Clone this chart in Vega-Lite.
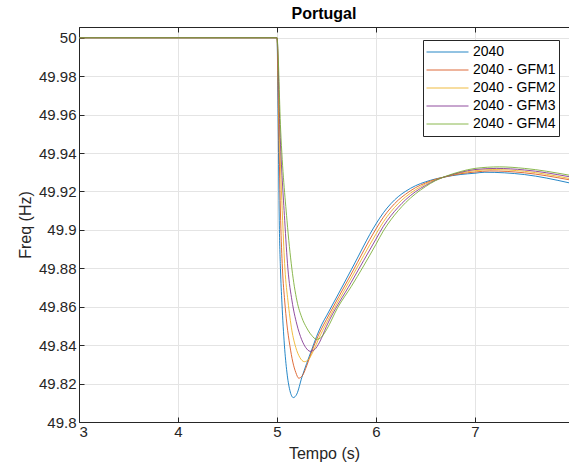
{
  "$schema": "https://vega.github.io/schema/vega-lite/v6.json",
  "width": 490,
  "height": 395,
  "padding": {"left": 17, "top": 5, "right": 0, "bottom": 5},
  "background": "white",
  "title": {"text": "Portugal", "fontSize": 16, "fontWeight": "bold", "font": "Liberation Sans", "color": "#000000", "offset": 5, "anchor": "middle"},
  "config": {
    "view": {"stroke": "#262626", "strokeWidth": 1},
    "axis": {
      "labelFont": "Liberation Sans", "labelFontSize": 15, "labelColor": "#262626",
      "titleFont": "Liberation Sans", "titleFontSize": 16, "titleFontWeight": "normal", "titleColor": "#262626",
      "domainColor": "#262626", "tickColor": "#262626", "gridColor": "#e4e4e4", "gridWidth": 1
    }
  },
  "data": {"values": [
    {"s":"2040","t":3,"f":50},{"s":"2040","t":5,"f":50},{"s":"2040","t":5.013,"f":49.952},{"s":"2040","t":5.023,"f":49.905},{"s":"2040","t":5.035,"f":49.88},{"s":"2040","t":5.05,"f":49.862},{"s":"2040","t":5.075,"f":49.84},{"s":"2040","t":5.1,"f":49.826},{"s":"2040","t":5.13,"f":49.8165},{"s":"2040","t":5.165,"f":49.8127},{"s":"2040","t":5.2,"f":49.8145},{"s":"2040","t":5.25,"f":49.823},{"s":"2040","t":5.3,"f":49.8305},{"s":"2040","t":5.35,"f":49.8375},{"s":"2040","t":5.4,"f":49.8445},{"s":"2040","t":5.455,"f":49.851},{"s":"2040","t":5.5,"f":49.8552},{"s":"2040","t":5.75,"f":49.8792},{"s":"2040","t":6.0,"f":49.9031},{"s":"2040","t":6.075,"f":49.9089},{"s":"2040","t":6.15,"f":49.9136},{"s":"2040","t":6.225,"f":49.9173},{"s":"2040","t":6.3,"f":49.9201},{"s":"2040","t":6.4,"f":49.923},{"s":"2040","t":6.5,"f":49.925},{"s":"2040","t":6.6,"f":49.9265},{"s":"2040","t":6.7,"f":49.9276},{"s":"2040","t":6.85,"f":49.9288},{"s":"2040","t":7.0,"f":49.9295},{"s":"2040","t":7.1,"f":49.93},{"s":"2040","t":7.5,"f":49.9288},{"s":"2040","t":7.95,"f":49.9245},
    {"s":"2040 - GFM1","t":3,"f":50},{"s":"2040 - GFM1","t":5,"f":50},{"s":"2040 - GFM1","t":5.018,"f":49.952},{"s":"2040 - GFM1","t":5.037,"f":49.905},{"s":"2040 - GFM1","t":5.055,"f":49.88},{"s":"2040 - GFM1","t":5.078,"f":49.863},{"s":"2040 - GFM1","t":5.1,"f":49.851},{"s":"2040 - GFM1","t":5.13,"f":49.8398},{"s":"2040 - GFM1","t":5.16,"f":49.8312},{"s":"2040 - GFM1","t":5.19,"f":49.8258},{"s":"2040 - GFM1","t":5.22,"f":49.8228},{"s":"2040 - GFM1","t":5.26,"f":49.8244},{"s":"2040 - GFM1","t":5.3,"f":49.8292},{"s":"2040 - GFM1","t":5.35,"f":49.8365},{"s":"2040 - GFM1","t":5.4,"f":49.843},{"s":"2040 - GFM1","t":5.45,"f":49.8485},{"s":"2040 - GFM1","t":5.5,"f":49.8534},{"s":"2040 - GFM1","t":5.75,"f":49.877},{"s":"2040 - GFM1","t":6.0,"f":49.9005},{"s":"2040 - GFM1","t":6.075,"f":49.9066},{"s":"2040 - GFM1","t":6.15,"f":49.9115},{"s":"2040 - GFM1","t":6.225,"f":49.9155},{"s":"2040 - GFM1","t":6.3,"f":49.9186},{"s":"2040 - GFM1","t":6.4,"f":49.922},{"s":"2040 - GFM1","t":6.5,"f":49.9244},{"s":"2040 - GFM1","t":6.6,"f":49.9263},{"s":"2040 - GFM1","t":6.7,"f":49.9276},{"s":"2040 - GFM1","t":6.85,"f":49.9292},{"s":"2040 - GFM1","t":7.0,"f":49.9301},{"s":"2040 - GFM1","t":7.15,"f":49.9307},{"s":"2040 - GFM1","t":7.5,"f":49.9297},{"s":"2040 - GFM1","t":7.95,"f":49.9261},
    {"s":"2040 - GFM2","t":3,"f":50},{"s":"2040 - GFM2","t":5,"f":50},{"s":"2040 - GFM2","t":5.024,"f":49.952},{"s":"2040 - GFM2","t":5.057,"f":49.905},{"s":"2040 - GFM2","t":5.08,"f":49.88},{"s":"2040 - GFM2","t":5.111,"f":49.863},{"s":"2040 - GFM2","t":5.15,"f":49.8478},{"s":"2040 - GFM2","t":5.19,"f":49.8388},{"s":"2040 - GFM2","t":5.23,"f":49.8337},{"s":"2040 - GFM2","t":5.276,"f":49.8314},{"s":"2040 - GFM2","t":5.32,"f":49.8326},{"s":"2040 - GFM2","t":5.37,"f":49.8372},{"s":"2040 - GFM2","t":5.42,"f":49.8432},{"s":"2040 - GFM2","t":5.46,"f":49.8475},{"s":"2040 - GFM2","t":5.5,"f":49.8516},{"s":"2040 - GFM2","t":5.75,"f":49.8749},{"s":"2040 - GFM2","t":6.0,"f":49.8978},{"s":"2040 - GFM2","t":6.075,"f":49.9042},{"s":"2040 - GFM2","t":6.15,"f":49.9094},{"s":"2040 - GFM2","t":6.225,"f":49.9137},{"s":"2040 - GFM2","t":6.3,"f":49.9172},{"s":"2040 - GFM2","t":6.4,"f":49.9209},{"s":"2040 - GFM2","t":6.5,"f":49.9238},{"s":"2040 - GFM2","t":6.6,"f":49.9261},{"s":"2040 - GFM2","t":6.7,"f":49.9277},{"s":"2040 - GFM2","t":6.85,"f":49.9296},{"s":"2040 - GFM2","t":7.0,"f":49.9308},{"s":"2040 - GFM2","t":7.18,"f":49.9314},{"s":"2040 - GFM2","t":7.5,"f":49.9305},{"s":"2040 - GFM2","t":7.95,"f":49.9268},
    {"s":"2040 - GFM3","t":3,"f":50},{"s":"2040 - GFM3","t":5,"f":50},{"s":"2040 - GFM3","t":5.03,"f":49.952},{"s":"2040 - GFM3","t":5.078,"f":49.905},{"s":"2040 - GFM3","t":5.11,"f":49.88},{"s":"2040 - GFM3","t":5.152,"f":49.863},{"s":"2040 - GFM3","t":5.2,"f":49.851},{"s":"2040 - GFM3","t":5.25,"f":49.8428},{"s":"2040 - GFM3","t":5.29,"f":49.8388},{"s":"2040 - GFM3","t":5.335,"f":49.8368},{"s":"2040 - GFM3","t":5.38,"f":49.8377},{"s":"2040 - GFM3","t":5.43,"f":49.8415},{"s":"2040 - GFM3","t":5.5,"f":49.8498},{"s":"2040 - GFM3","t":5.75,"f":49.8727},{"s":"2040 - GFM3","t":6.0,"f":49.8952},{"s":"2040 - GFM3","t":6.075,"f":49.9019},{"s":"2040 - GFM3","t":6.15,"f":49.9073},{"s":"2040 - GFM3","t":6.225,"f":49.9118},{"s":"2040 - GFM3","t":6.3,"f":49.9157},{"s":"2040 - GFM3","t":6.4,"f":49.9199},{"s":"2040 - GFM3","t":6.5,"f":49.9231},{"s":"2040 - GFM3","t":6.6,"f":49.9258},{"s":"2040 - GFM3","t":6.7,"f":49.9277},{"s":"2040 - GFM3","t":6.85,"f":49.9299},{"s":"2040 - GFM3","t":7.0,"f":49.9314},{"s":"2040 - GFM3","t":7.22,"f":49.932},{"s":"2040 - GFM3","t":7.5,"f":49.9312},{"s":"2040 - GFM3","t":7.95,"f":49.9277},
    {"s":"2040 - GFM4","t":3,"f":50},{"s":"2040 - GFM4","t":5,"f":50},{"s":"2040 - GFM4","t":5.037,"f":49.952},{"s":"2040 - GFM4","t":5.101,"f":49.905},{"s":"2040 - GFM4","t":5.15,"f":49.88},{"s":"2040 - GFM4","t":5.202,"f":49.863},{"s":"2040 - GFM4","t":5.25,"f":49.8545},{"s":"2040 - GFM4","t":5.3,"f":49.849},{"s":"2040 - GFM4","t":5.35,"f":49.8451},{"s":"2040 - GFM4","t":5.4,"f":49.843},{"s":"2040 - GFM4","t":5.45,"f":49.8442},{"s":"2040 - GFM4","t":5.5,"f":49.848},{"s":"2040 - GFM4","t":5.613,"f":49.8595},{"s":"2040 - GFM4","t":5.75,"f":49.8705},{"s":"2040 - GFM4","t":6.0,"f":49.8925},{"s":"2040 - GFM4","t":6.075,"f":49.8995},{"s":"2040 - GFM4","t":6.15,"f":49.9052},{"s":"2040 - GFM4","t":6.225,"f":49.91},{"s":"2040 - GFM4","t":6.3,"f":49.9142},{"s":"2040 - GFM4","t":6.4,"f":49.9188},{"s":"2040 - GFM4","t":6.5,"f":49.9225},{"s":"2040 - GFM4","t":6.6,"f":49.9256},{"s":"2040 - GFM4","t":6.7,"f":49.9278},{"s":"2040 - GFM4","t":6.85,"f":49.9303},{"s":"2040 - GFM4","t":7.0,"f":49.932},{"s":"2040 - GFM4","t":7.25,"f":49.9328},{"s":"2040 - GFM4","t":7.5,"f":49.932},{"s":"2040 - GFM4","t":7.95,"f":49.9285}
  ]},
  "layer": [
    {
      "mark": {"type": "line", "interpolate": "monotone", "strokeWidth": 1, "opacity": 0.85, "clip": true},
      "encoding": {
        "x": {"field": "t", "type": "quantitative", "scale": {"domain": [3, 7.95], "nice": false, "zero": false},
              "axis": {"values": [3, 4, 5, 6, 7], "format": "d", "title": "Tempo (s)", "tickSize": -5, "labelPadding": 7, "titlePadding": 6, "grid": true}},
        "y": {"field": "f", "type": "quantitative", "scale": {"domain": [49.8, 50.0056], "nice": false, "zero": false},
              "axis": {"values": [49.8, 49.82, 49.84, 49.86, 49.88, 49.9, 49.92, 49.94, 49.96, 49.98, 50], "format": "~g", "title": "Freq (Hz)", "tickSize": -5, "labelPadding": 8, "titlePadding": 5, "grid": true}},
        "color": {"field": "s", "type": "nominal",
                  "scale": {"domain": ["2040", "2040 - GFM1", "2040 - GFM2", "2040 - GFM3", "2040 - GFM4"], "range": ["#0072BD", "#D95319", "#EDB120", "#7E2F8E", "#77AC30"]},
                  "legend": {"orient": "none", "legendX": 344, "legendY": 13, "title": null, "symbolType": "stroke", "symbolSize": 1764, "symbolStrokeWidth": 1, "symbolOpacity": 0.85, "clipHeight": 18, "rowPadding": 0, "padding": 3, "labelOffset": 4, "labelFont": "Liberation Sans", "labelFontSize": 14, "labelColor": "#000000", "fillColor": "white", "strokeColor": "#262626"}}
      }
    },
    {
      "mark": {"type": "rule", "opacity": 0},
      "encoding": {
        "x": {"field": "t", "type": "quantitative", "scale": {"domain": [3, 7.95], "nice": false, "zero": false},
              "axis": {"orient": "top", "values": [3, 4, 5, 6, 7], "labels": false, "title": null, "grid": false, "tickSize": -5}}
      }
    }
  ],
  "resolve": {"scale": {"x": "independent"}, "axis": {"x": "independent"}}
}
